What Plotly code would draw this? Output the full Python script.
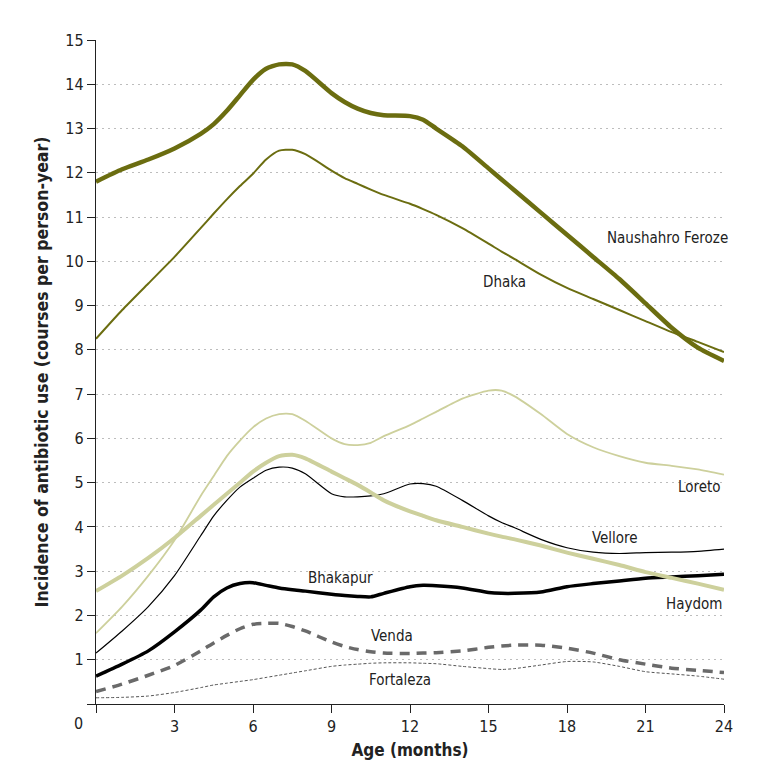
import plotly.graph_objects as go

months = [0, 1, 2, 3, 4, 4.5, 5, 5.5, 6, 6.5, 7, 7.5, 8, 9, 9.5, 10, 10.5, 11, 12, 12.5, 13, 14, 15, 15.5, 16, 17, 18, 19, 20, 21, 22, 23, 24]

naushahro = [11.8, 12.08, 12.3, 12.55, 12.88, 13.1, 13.4, 13.75, 14.1, 14.35, 14.45, 14.45, 14.3, 13.8, 13.6, 13.45, 13.35, 13.3, 13.28, 13.2, 13.0, 12.6, 12.1, 11.85, 11.6, 11.1, 10.6, 10.1, 9.6, 9.05, 8.5, 8.05, 7.75]
dhaka = [8.25, 8.9, 9.5, 10.1, 10.75, 11.08, 11.4, 11.7, 11.98, 12.3, 12.5, 12.52, 12.42, 12.05, 11.88, 11.75, 11.62, 11.5, 11.3, 11.18, 11.05, 10.75, 10.4, 10.22, 10.05, 9.7, 9.4, 9.15, 8.9, 8.65, 8.4, 8.18, 7.95]
loreto = [1.6, 2.2, 2.9, 3.7, 4.7, 5.15, 5.6, 5.95, 6.25, 6.45, 6.55, 6.55, 6.4, 6.0, 5.87, 5.85, 5.9, 6.05, 6.3, 6.45, 6.6, 6.9, 7.08, 7.08, 6.95, 6.55, 6.1, 5.8, 5.6, 5.45, 5.38, 5.3, 5.18]
haydom = [2.55, 2.9, 3.3, 3.75, 4.25, 4.5, 4.75, 5.0, 5.25, 5.45, 5.6, 5.63, 5.55, 5.25, 5.1, 4.95, 4.78, 4.6, 4.35, 4.25, 4.15, 4.0, 3.85, 3.78, 3.72, 3.58, 3.42, 3.28, 3.14, 2.98, 2.85, 2.72, 2.58]
vellore = [1.15, 1.65, 2.2, 2.9, 3.8, 4.25, 4.6, 4.9, 5.1, 5.28, 5.35, 5.33, 5.2, 4.75, 4.68, 4.68, 4.7, 4.75, 4.97, 4.98, 4.92, 4.6, 4.25, 4.1, 3.98, 3.72, 3.53, 3.43, 3.4, 3.42, 3.43, 3.45, 3.5]
bhakapur = [0.63, 0.9, 1.2, 1.63, 2.12, 2.42, 2.62, 2.72, 2.74, 2.68, 2.62, 2.58, 2.55, 2.48, 2.45, 2.43, 2.42, 2.5, 2.65, 2.68, 2.67, 2.62, 2.52, 2.5, 2.5, 2.53, 2.65, 2.72, 2.78, 2.84, 2.87, 2.9, 2.93]
venda = [0.28, 0.45, 0.65, 0.87, 1.2, 1.38, 1.55, 1.7, 1.8, 1.82, 1.82, 1.75, 1.65, 1.4, 1.3, 1.23, 1.18, 1.15, 1.14, 1.15, 1.16, 1.2, 1.28, 1.31, 1.33, 1.33, 1.26, 1.15, 1.0, 0.9, 0.81, 0.76, 0.71]
fortaleza = [0.14, 0.15, 0.18, 0.26, 0.37, 0.43, 0.47, 0.51, 0.55, 0.6, 0.65, 0.7, 0.75, 0.85, 0.88, 0.9, 0.92, 0.93, 0.93, 0.92, 0.91, 0.85, 0.8, 0.78, 0.8, 0.88, 0.96, 0.95, 0.85, 0.73, 0.68, 0.63, 0.56]

x_ticks = [0, 3, 6, 9, 12, 15, 18, 21, 24]
y_ticks = list(range(0, 16))

DARK = "#6b6d10"
LIGHT = "#cdd09c"
FONT = "DejaVu Sans Condensed, DejaVu Sans, sans-serif"
TXT = "#222222"

series = [
    ("Fortaleza", fortaleza, "#555555", 1, "3px,2px"),
    ("Venda", venda, "#6a6a6a", 3.5, "10px,7px"),
    ("Bhakapur", bhakapur, "#000000", 3.5, "solid"),
    ("Vellore", vellore, "#000000", 1.2, "solid"),
    ("Haydom", haydom, LIGHT, 4, "solid"),
    ("Loreto", loreto, LIGHT, 1.8, "solid"),
    ("Dhaka", dhaka, DARK, 2, "solid"),
    ("Naushahro Feroze", naushahro, DARK, 4.5, "solid"),
]

fig = go.Figure()
for name, ys, color, w, dash in series:
    fig.add_trace(go.Scatter(x=months, y=ys, mode="lines", name=name,
                             line=dict(color=color, width=w, dash=dash, shape="spline", smoothing=0.6)))

labels = [
    ("Naushahro Feroze", 21.85, 10.52),
    ("Dhaka", 15.6, 9.53),
    ("Loreto", 23.05, 4.9),
    ("Vellore", 19.85, 3.75),
    ("Haydom", 22.85, 2.26),
    ("Bhakapur", 9.33, 2.85),
    ("Venda", 11.3, 1.53),
    ("Fortaleza", 11.6, 0.54),
]
for text, lx, ly in labels:
    fig.add_annotation(x=lx, y=ly, text=text, showarrow=False,
                       font=dict(family=FONT, size=15, color=TXT))

fig.add_annotation(xref="paper", yref="paper", x=0, y=0, xshift=-18, yshift=-19,
                   xanchor="center", yanchor="middle",
                   text="0", showarrow=False, font=dict(family=FONT, size=16, color=TXT))

fig.update_layout(
    width=771, height=784,
    margin=dict(l=88, r=55, t=32, b=88),
    plot_bgcolor="white", paper_bgcolor="white",
    showlegend=False,
    font=dict(family=FONT, size=16, color=TXT),
    xaxis=dict(range=[0, 24], tickvals=x_ticks, automargin=False,
               ticktext=["" if v == 0 else str(v) for v in x_ticks],
               tickfont=dict(family=FONT, size=16, color=TXT),
               showgrid=False, zeroline=False, showline=True, linecolor=TXT, linewidth=1.3,
               ticks="outside", ticklen=8, tickcolor=TXT, tickwidth=1.3,
               title=dict(text="<b>Age (months)</b>", font=dict(family=FONT, size=17), standoff=8)),
    yaxis=dict(range=[0, 15], tickvals=y_ticks, automargin=False,
               ticktext=["" if v == 0 else str(v) for v in y_ticks],
               tickfont=dict(family=FONT, size=16, color=TXT),
               showgrid=True, gridcolor="#bdbdbd", griddash="2px,4px", gridwidth=1,
               zeroline=False, showline=True, linecolor=TXT, linewidth=1.3,
               ticks="outside", ticklen=8, tickcolor=TXT, tickwidth=1.3,
               title=dict(text="<b>Incidence of antibiotic use (courses per person-year)</b>",
                          font=dict(family=FONT, size=17.5), standoff=12)),
)

fig.write_html("out.html")
